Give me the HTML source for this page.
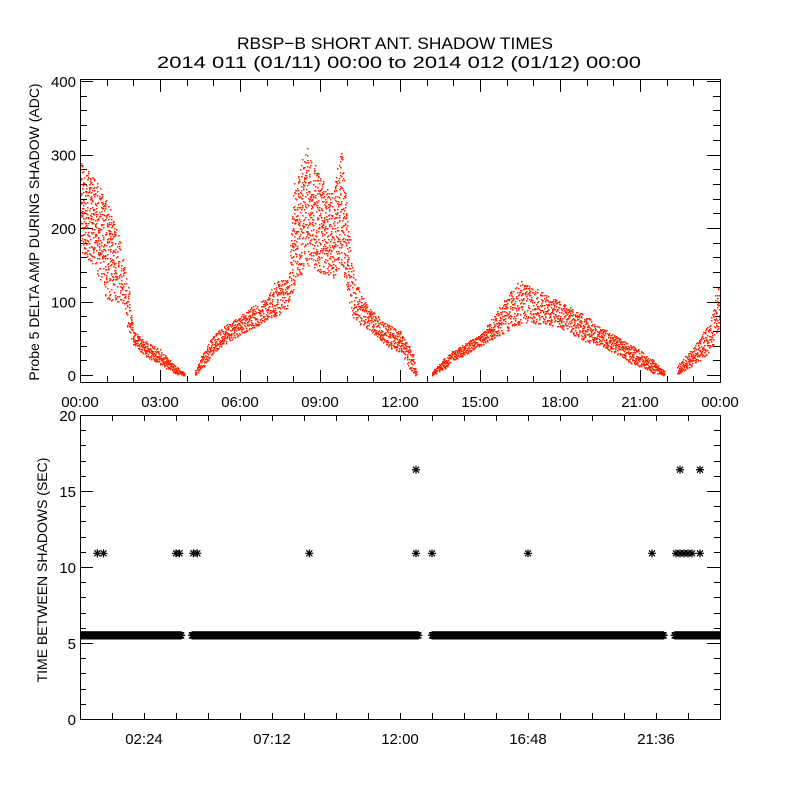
<!DOCTYPE html>
<html><head><meta charset="utf-8"><style>
html,body{margin:0;padding:0;background:#fff;}
svg{display:block;font-family:"Liberation Sans",sans-serif;}
</style></head><body>
<svg id="chart" width="800" height="800" viewBox="0 0 800 800">
<defs>
<clipPath id="clipTop"><rect x="81" y="80" width="639" height="302"/></clipPath>
<clipPath id="clipBot"><rect x="81" y="416" width="639" height="303"/></clipPath>
</defs>
<rect x="0" y="0" width="800" height="800" fill="#fff"/>
<text x="395" y="49" text-anchor="middle" font-size="17" textLength="316" lengthAdjust="spacingAndGlyphs">RBSP−B SHORT ANT. SHADOW TIMES</text>
<text x="399" y="68" text-anchor="middle" font-size="17" textLength="484" lengthAdjust="spacingAndGlyphs">2014 011 (01/11) 00:00 to 2014 012 (01/12) 00:00</text>
<g id="topPanel"></g>
<g id="botPanel"></g>
</svg>
<script>
// ---- top panel data (envelope of scatter, hours -> ADC) ----
var ampHours = [0,0.5,1.0,1.5,1.8,2.0,2.5,3.0,3.5,3.9, 4.3,4.6,5.0,5.5,6.0,6.5,7.0,7.3,7.8,8.0,8.5,9.0,9.5,9.8,10.2,10.5,11,11.5,12,12.5,12.6, 13.2,13.7,14,14.5,15,15.5,16,16.5,17,17.5,18,18.5,19,19.5,20,20.5,21,21.5,21.9, 22.4,22.8,23.2,23.6,24];
var ampLow  = [170,150,100,100,60,40,25,15,3,0, 0,10,30,45,55,65,75,80,90,120,150,140,130,150,80,70,55,40,30,0,0, 0,10,20,30,40,50,60,70,70,70,65,55,45,40,30,20,10,3,0, 0,10,20,30,60];
var ampHigh = [290,270,240,180,120,60,45,35,15,3, 5,30,55,70,80,95,105,130,130,260,310,270,250,310,150,110,85,70,60,30,5, 5,25,35,45,55,80,110,130,120,110,100,90,80,65,55,45,35,20,5, 15,30,50,70,140];
var ampGapsStart = [3.9,12.6,21.9];
var ampGapsEnd = [4.3,13.2,22.4];
var topYTicks = [0,100,200,300,400];
var topXLabels = ["00:00","03:00","06:00","09:00","12:00","15:00","18:00","21:00","00:00"];
// ---- bottom panel data ----
var bandStart = [0.0,4.2,13.2,22.3];
var bandEnd   = [3.8,12.7,21.9,24.0];
var bandValue = 5.5;
var starHours = [0.65,0.88,3.6,3.73,4.25,4.4,8.6,12.6,13.2,16.8,21.45,22.35,22.5,22.65,22.8,22.95,23.25];
var starValues= [10.9,10.9,10.9,10.9,10.9,10.9,10.9,10.9,10.9,10.9,10.9,10.9,10.9,10.9,10.9,10.9,10.9];
var highStarHours = [12.6,22.5,23.25];
var highStarValues = [16.4,16.4,16.4];
var botYTicks = [0,5,10,15,20];
var botXLabelHours = [2.4,7.2,12,16.8,21.6];
var botXLabels = ["02:24","07:12","12:00","16:48","21:36"];

var NS="http://www.w3.org/2000/svg";
var X0=80,X1=720;
function xs(h){return X0+h*(X1-X0)/24;}
function yTop(v){return 375-v*0.735;}
function yBot(v){return 719-v*15.2;}
function el(tag,attrs,parent){var e=document.createElementNS(NS,tag);for(var k in attrs)e.setAttribute(k,attrs[k]);parent.appendChild(e);return e;}

var topG=document.getElementById('topPanel'), botG=document.getElementById('botPanel');

var f1=el('rect',{x:80.5,y:79.5,width:640,height:303,fill:'none',stroke:'#000','stroke-width':1},topG);


for(var v=0;v<=400;v+=20){
  var major=(v%100===0), len=major?13:7, y=Math.round(yTop(v))+0.5;
  el('line',{x1:80,y1:y,x2:80+len,y2:y,stroke:'#000'},topG);
  el('line',{x1:720,y1:y,x2:720-len,y2:y,stroke:'#000'},topG);
}
topYTicks.forEach(function(v){
  var t=el('text',{x:76,y:yTop(v)+6,'text-anchor':'end','font-size':15},topG);
  t.textContent=v;
  
  
});
for(var h=0;h<=24;h+=1){
  var major=(h%3===0), len=major?13:7, x=Math.round(xs(h))+0.5;
  el('line',{x1:x,y1:383,x2:x,y2:383-len,stroke:'#000'},topG);
  el('line',{x1:x,y1:79,x2:x,y2:79+len,stroke:'#000'},topG);
}
topXLabels.forEach(function(s,i){
  var t=el('text',{x:xs(i*3),y:407,'text-anchor':'middle','font-size':15},topG);
  t.textContent=s;
  
  
});
var yt=el('text',{x:0,y:0,'text-anchor':'middle','font-size':14,transform:'translate(39,232) rotate(-90)'},topG);
yt.textContent='Probe 5 DELTA AMP DURING SHADOW (ADC)';



function hash(n){var s=Math.sin(n*12.9898)*43758.5453;return s-Math.floor(s);}
function interp(arr,h){
  for(var i=0;i<ampHours.length-1;i++){
    if(h>=ampHours[i]&&h<=ampHours[i+1]){var t=(h-ampHours[i])/((ampHours[i+1]-ampHours[i])||1);return arr[i]+t*(arr[i+1]-arr[i]);}
  }return arr[arr.length-1];
}
function inGap(h){for(var i=0;i<ampGapsStart.length;i++){if(h>ampGapsStart[i]+0.01&&h<ampGapsEnd[i]-0.01)return true;}return false;}
var dots=el('g',{fill:'#ff2200','clip-path':'url(#clipTop)'},topG);


var cnt=0;
for(var h=0;h<=24;h+=0.005){
  if(inGap(h))continue;
  var lo=interp(ampLow,h), hi=interp(ampHigh,h);
  var k=(hi-lo)>100?2:1;
  for(var j=0;j<k;j++){
    cnt++;
    var vv=lo+(hi-lo)*hash(cnt);
    el('rect',{x:Math.round(xs(h)),y:Math.round(yTop(vv)),width:1.5,height:1.5},dots);
  }
}

var f2=el('rect',{x:80.5,y:415.5,width:640,height:304,fill:'none',stroke:'#000'},botG);


for(var v=0;v<=20;v+=1){
  var major=(v%5===0), len=major?13:6, y=Math.round(yBot(v))+0.5;
  el('line',{x1:80,y1:y,x2:80+len,y2:y,stroke:'#000'},botG);
  el('line',{x1:720,y1:y,x2:720-len,y2:y,stroke:'#000'},botG);
}
botYTicks.forEach(function(v){
  var t=el('text',{x:76,y:yBot(v)+6,'text-anchor':'end','font-size':15},botG);
  t.textContent=v;
  
  
});
for(var h=1.2;h<24;h+=1.2){
  var x=Math.round(xs(h))+0.5;
  el('line',{x1:x,y1:719,x2:x,y2:713,stroke:'#000'},botG);
  el('line',{x1:x,y1:415,x2:x,y2:421,stroke:'#000'},botG);
}
botXLabels.forEach(function(s,i){
  var t=el('text',{x:xs(botXLabelHours[i]),y:744,'text-anchor':'middle','font-size':15},botG);
  t.textContent=s;
  
  
});
var yt2=el('text',{x:0,y:0,'text-anchor':'middle','font-size':14,transform:'translate(47,570) rotate(-90)'},botG);
yt2.textContent='TIME BETWEEN SHADOWS (SEC)';



function star(h,v,parent){
  var x=xs(h),y=yBot(v),r=4,d=3;
  return el('path',{d:'M'+(x-r)+' '+y+'H'+(x+r)+'M'+x+' '+(y-r)+'V'+(y+r)+'M'+(x-d)+' '+(y-d)+'L'+(x+d)+' '+(y+d)+'M'+(x-d)+' '+(y+d)+'L'+(x+d)+' '+(y-d),stroke:'#000','stroke-width':1.2,fill:'none'},parent);
}
var bandG=el('g',{'clip-path':'url(#clipBot)'},botG);


for(var i=0;i<bandStart.length;i++){
  for(var h=bandStart[i];h<=bandEnd[i];h+=0.015){star(h,bandValue,bandG);}
}
var sg=el('g',{},botG);


starHours.forEach(function(h,i){star(h,starValues[i],sg);});
highStarHours.forEach(function(h,i){star(h,highStarValues[i],sg);});
</script>
</body></html>
